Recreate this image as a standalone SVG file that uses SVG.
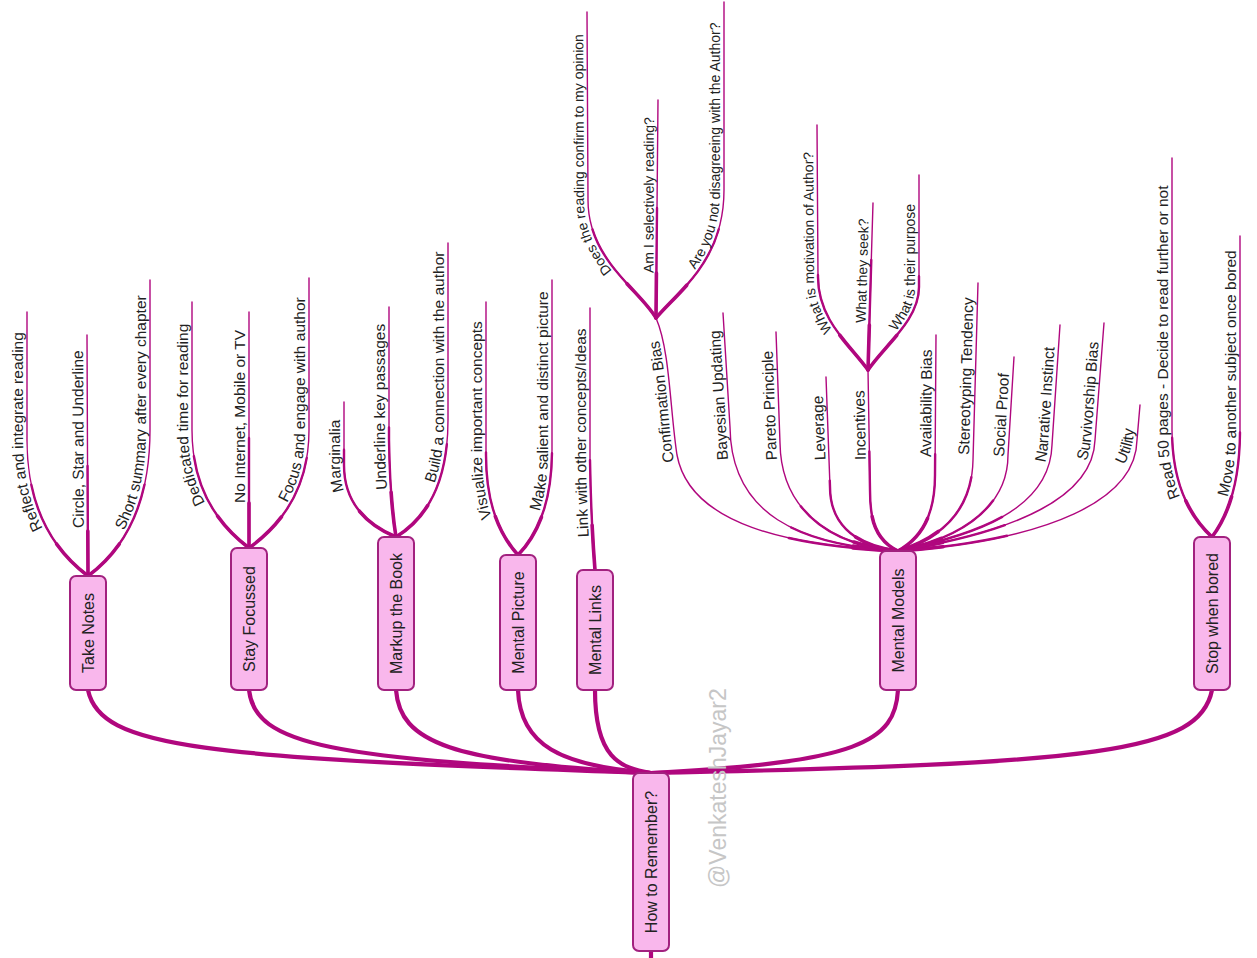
<svg xmlns="http://www.w3.org/2000/svg" xmlns:xlink="http://www.w3.org/1999/xlink" width="1257" height="958" viewBox="0 0 1257 958">
<style>
.bg{fill:#ffffff}
.main{fill:none;stroke:#B0077E;stroke-width:4.2;stroke-linecap:round}
.w1{fill:none;stroke:#B0077E;stroke-width:1.4;stroke-linecap:round}
.w2{fill:none;stroke:#B0077E;stroke-width:2.4;stroke-linecap:round;stroke-dasharray:110 3000}
.w3{fill:none;stroke:#B0077E;stroke-width:3.6;stroke-linecap:round;stroke-dasharray:45 3000}
.box{fill:#F9B7EC;stroke:#A2217F;stroke-width:2}
.nt{font-family:"Liberation Sans",Arial,sans-serif;font-size:16px;fill:#222;text-anchor:middle}
.l2{font-family:"Liberation Sans",Arial,sans-serif;font-size:15.5px;fill:#222}
.l3{font-family:"Liberation Sans",Arial,sans-serif;font-size:14px;fill:#222}
.wm{font-family:"Liberation Sans",Arial,sans-serif;font-size:23px;fill:#C6C6C6}
</style>
<defs>
<path id="lp-tn1" d="M88,576 Q27,530 27,440 L27,312"/>
<path id="tp-tn1" d="M46.8,528.3 Q27,491.3 27,440 L27,312"/>
<path id="lp-tn2" d="M88,576 L87,335"/>
<path id="tp-tn2" d="M87.8,528 L87,335"/>
<path id="lp-tn3" d="M88,576 Q150,530 150,430 L150,280"/>
<path id="tp-tn3" d="M127.7,530.6 Q150,490 150,430 L150,280"/>
<path id="lp-sf1" d="M249,548 Q192,505 192,430 L192,302"/>
<path id="tp-sf1" d="M209.2,502.9 Q192,471.3 192,430 L192,302"/>
<path id="lp-sf2" d="M249,548 L249,312"/>
<path id="tp-sf2" d="M249,503 L249,312"/>
<path id="lp-sf3" d="M249,548 Q309,505 309,430 L309,278"/>
<path id="tp-sf3" d="M290.9,502.9 Q309,471.3 309,430 L309,278"/>
<path id="lp-mb1" d="M396,537 Q344,515 344,465 L344,402"/>
<path id="tp-mb1" d="M348.1,490.8 Q344,479 344,465 L344,402"/>
<path id="lp-mb2" d="M396,537 Q390,500 389,440 L389,307"/>
<path id="tp-mb2" d="M390.9,489.3 Q389.45,467 389,440 L389,307"/>
<path id="lp-mb3" d="M396,537 Q448,505 448,420 L448,243"/>
<path id="tp-mb3" d="M438.4,483.4 Q448,456.6 448,420 L448,243"/>
<path id="lp-mp1" d="M518,555 Q486,520 486,455 L486,302"/>
<path id="tp-mp1" d="M495.7,517.4 Q486,490.75 486,455 L486,302"/>
<path id="lp-mp2" d="M518,555 Q552,520 552,450 L552,280"/>
<path id="tp-mp2" d="M543.5,511.25 Q552,485 552,450 L552,280"/>
<path id="lp-ml1" d="M595,570 Q591,520 590,460 L590,308"/>
<path id="tp-ml1" d="M592.7,537 Q590.7,500.8 590,460 L590,308"/>
<path id="lp-mm1" d="M898,551 C790,546 690,525 677,455 C670,410 670,350 656,318"/>
<path id="tp-mm1" d="M677.8,462 L677,455 C670,410 670,350 656,318"/>
<path id="lp-mm2" d="M898,551 C800,545 731,515 730,427 L723,313"/>
<path id="tp-mm2" d="M732,460 Q730.5,440 730,427 L723,313"/>
<path id="lp-mm3" d="M898,551 C830,545 781,510 780,443 L776,332"/>
<path id="tp-mm3" d="M781,460 L780,443 L776,332"/>
<path id="lp-mm4" d="M898,551 C850,545 830,520 830,487 L826,377"/>
<path id="tp-mm4" d="M829.5,460 L826,377"/>
<path id="lp-mm5" d="M898,551 C875,540 870,520 870,490 L868,370"/>
<path id="tp-mm5" d="M869.8,460 L868,370"/>
<path id="lp-mm6" d="M898,551 C918,540 935,520 935,475 L936,335"/>
<path id="tp-mm6" d="M935,457 L936,335"/>
<path id="lp-mm7" d="M898,551 C935,540 972,515 973,460 L978,283"/>
<path id="tp-mm7" d="M973,455 L978,283"/>
<path id="lp-mm8" d="M898,551 C955,540 1008,510 1008,455 L1014,357"/>
<path id="tp-mm8" d="M1008,457 L1014,357"/>
<path id="lp-mm9" d="M898,551 C975,535 1050,510 1052,445 L1060,325"/>
<path id="tp-mm9" d="M1049,463 Q1051.5,452 1052,445 L1060,325"/>
<path id="lp-mm10" d="M898,551 C995,535 1093,505 1095,440 L1104,323"/>
<path id="tp-mm10" d="M1090,461 Q1094,452 1095,440 L1104,323"/>
<path id="lp-mm11" d="M898,551 C1050,540 1136,500 1137,440 L1140,405"/>
<path id="tp-mm11" d="M1128,465 Q1135,452 1137,440 L1140,405"/>
<path id="lp-cb1" d="M656,318 C640,290 588,260 588,200 L587,12"/>
<path id="tp-cb1" d="M616.1,271 C601,252.5 588,230 588,200 L587,12"/>
<path id="lp-cb2" d="M656,318 L658,100"/>
<path id="tp-cb2" d="M657.5,273 L658,100"/>
<path id="lp-cb3" d="M656,318 C680,290 724,260 724,190 L724,2"/>
<path id="tp-cb3" d="M699.1,269.75 C713,250 724,225 724,190 L724,2"/>
<path id="lp-in1" d="M868,370 C850,345 818,320 818,277 L817,125"/>
<path id="tp-in1" d="M836.25,330.25 C826,315.5 818,298.5 818,277 L817,125"/>
<path id="lp-in2" d="M868,370 L873,203"/>
<path id="tp-in2" d="M869.6,323 L873,203"/>
<path id="lp-in3" d="M868,370 C885,345 919,320 919,287 L919,175"/>
<path id="tp-in3" d="M899.9,331.5 C910.5,318 919,303.5 919,287 L919,175"/>
<path id="lp-sb1" d="M1212,537 Q1172,500 1172,430 L1172,158"/>
<path id="tp-sb1" d="M1184.1,497 Q1172,468.5 1172,430 L1172,158"/>
<path id="lp-sb2" d="M1212,537 Q1240,500 1240,430 L1240,236"/>
<path id="tp-sb2" d="M1231.5,497 Q1240,468.5 1240,430 L1240,236"/>
</defs>
<rect class="bg" x="0" y="0" width="1257" height="958"/>
<g id="connectors">
<path class="main" d="M88,690 C100,748 200,758 651,773"/>
<path class="main" d="M249,690 C255,745 330,760 651,773"/>
<path class="main" d="M396,690 C400,742 450,763 651,773"/>
<path class="main" d="M518,690 C520,745 560,766 651,773"/>
<path class="main" d="M595,690 C595,758 620,768 651,773"/>
<path class="main" d="M898,690 C895,742 860,762 651,773"/>
<path class="main" d="M1212,690 C1200,752 1100,764 651,773"/>
<path class="main" d="M651,951 L651,958"/>
<g id="leaf-lines">
<use href="#lp-tn1" class="w1"/><use href="#lp-tn1" class="w2"/><use href="#lp-tn1" class="w3"/>
<use href="#lp-tn2" class="w1"/><use href="#lp-tn2" class="w2"/><use href="#lp-tn2" class="w3"/>
<use href="#lp-tn3" class="w1"/><use href="#lp-tn3" class="w2"/><use href="#lp-tn3" class="w3"/>
<use href="#lp-sf1" class="w1"/><use href="#lp-sf1" class="w2"/><use href="#lp-sf1" class="w3"/>
<use href="#lp-sf2" class="w1"/><use href="#lp-sf2" class="w2"/><use href="#lp-sf2" class="w3"/>
<use href="#lp-sf3" class="w1"/><use href="#lp-sf3" class="w2"/><use href="#lp-sf3" class="w3"/>
<use href="#lp-mb1" class="w1"/><use href="#lp-mb1" class="w2"/><use href="#lp-mb1" class="w3"/>
<use href="#lp-mb2" class="w1"/><use href="#lp-mb2" class="w2"/><use href="#lp-mb2" class="w3"/>
<use href="#lp-mb3" class="w1"/><use href="#lp-mb3" class="w2"/><use href="#lp-mb3" class="w3"/>
<use href="#lp-mp1" class="w1"/><use href="#lp-mp1" class="w2"/><use href="#lp-mp1" class="w3"/>
<use href="#lp-mp2" class="w1"/><use href="#lp-mp2" class="w2"/><use href="#lp-mp2" class="w3"/>
<use href="#lp-ml1" class="w1"/><use href="#lp-ml1" class="w2"/><use href="#lp-ml1" class="w3"/>
<use href="#lp-mm1" class="w1"/><use href="#lp-mm1" class="w2"/><use href="#lp-mm1" class="w3"/>
<use href="#lp-mm2" class="w1"/><use href="#lp-mm2" class="w2"/><use href="#lp-mm2" class="w3"/>
<use href="#lp-mm3" class="w1"/><use href="#lp-mm3" class="w2"/><use href="#lp-mm3" class="w3"/>
<use href="#lp-mm4" class="w1"/><use href="#lp-mm4" class="w2"/><use href="#lp-mm4" class="w3"/>
<use href="#lp-mm5" class="w1"/><use href="#lp-mm5" class="w2"/><use href="#lp-mm5" class="w3"/>
<use href="#lp-mm6" class="w1"/><use href="#lp-mm6" class="w2"/><use href="#lp-mm6" class="w3"/>
<use href="#lp-mm7" class="w1"/><use href="#lp-mm7" class="w2"/><use href="#lp-mm7" class="w3"/>
<use href="#lp-mm8" class="w1"/><use href="#lp-mm8" class="w2"/><use href="#lp-mm8" class="w3"/>
<use href="#lp-mm9" class="w1"/><use href="#lp-mm9" class="w2"/><use href="#lp-mm9" class="w3"/>
<use href="#lp-mm10" class="w1"/><use href="#lp-mm10" class="w2"/><use href="#lp-mm10" class="w3"/>
<use href="#lp-mm11" class="w1"/><use href="#lp-mm11" class="w2"/><use href="#lp-mm11" class="w3"/>
<use href="#lp-cb1" class="w1"/><use href="#lp-cb1" class="w2"/><use href="#lp-cb1" class="w3"/>
<use href="#lp-cb2" class="w1"/><use href="#lp-cb2" class="w2"/><use href="#lp-cb2" class="w3"/>
<use href="#lp-cb3" class="w1"/><use href="#lp-cb3" class="w2"/><use href="#lp-cb3" class="w3"/>
<use href="#lp-in1" class="w1"/><use href="#lp-in1" class="w2"/><use href="#lp-in1" class="w3"/>
<use href="#lp-in2" class="w1"/><use href="#lp-in2" class="w2"/><use href="#lp-in2" class="w3"/>
<use href="#lp-in3" class="w1"/><use href="#lp-in3" class="w2"/><use href="#lp-in3" class="w3"/>
<use href="#lp-sb1" class="w1"/><use href="#lp-sb1" class="w2"/><use href="#lp-sb1" class="w3"/>
<use href="#lp-sb2" class="w1"/><use href="#lp-sb2" class="w2"/><use href="#lp-sb2" class="w3"/>
</g>
</g>
<text class="wm" transform="translate(726,888) rotate(-90)">@VenkateshJayar2</text>
<g id="node-root"><rect class="box" x="633" y="773" width="36" height="178" rx="6"/><text class="nt" transform="translate(651,862) rotate(-90)" dy="5.5">How to Remember?</text></g>
<g id="node-take-notes"><rect class="box" x="70" y="576" width="36" height="114" rx="6"/><text class="nt" transform="translate(88,633) rotate(-90)" dy="5.5">Take Notes</text></g>
<g id="node-stay-focussed"><rect class="box" x="231" y="548" width="36" height="142" rx="6"/><text class="nt" transform="translate(249,619) rotate(-90)" dy="5.5">Stay Focussed</text></g>
<g id="node-markup"><rect class="box" x="378" y="537" width="36" height="153" rx="6"/><text class="nt" transform="translate(396,613.5) rotate(-90)" dy="5.5">Markup the Book</text></g>
<g id="node-mental-picture"><rect class="box" x="500" y="555" width="36" height="135" rx="6"/><text class="nt" transform="translate(518,622.5) rotate(-90)" dy="5.5">Mental Picture</text></g>
<g id="node-mental-links"><rect class="box" x="577" y="570" width="36" height="120" rx="6"/><text class="nt" transform="translate(595,630) rotate(-90)" dy="5.5">Mental Links</text></g>
<g id="node-mental-models"><rect class="box" x="880" y="551" width="36" height="139" rx="6"/><text class="nt" transform="translate(898,620.5) rotate(-90)" dy="5.5">Mental Models</text></g>
<g id="node-stop-when-bored"><rect class="box" x="1194" y="537" width="36" height="153" rx="6"/><text class="nt" transform="translate(1212,613.5) rotate(-90)" dy="5.5">Stop when bored</text></g>
<g id="leaf-tn1"><text class="l2" transform="translate(-4,0)"><textPath href="#tp-tn1">Reflect and integrate reading</textPath></text></g>
<g id="leaf-tn2"><text class="l2" transform="translate(-4,0)"><textPath href="#tp-tn2">Circle, Star and Underline</textPath></text></g>
<g id="leaf-tn3"><text class="l2" transform="translate(-4,0)"><textPath href="#tp-tn3">Short summary after every chapter</textPath></text></g>
<g id="leaf-sf1"><text class="l2" transform="translate(-4,0)"><textPath href="#tp-sf1">Dedicated time for reading</textPath></text></g>
<g id="leaf-sf2"><text class="l2" transform="translate(-4,0)"><textPath href="#tp-sf2">No Internet, Mobile or TV</textPath></text></g>
<g id="leaf-sf3"><text class="l2" transform="translate(-4,0)"><textPath href="#tp-sf3">Focus and engage with author</textPath></text></g>
<g id="leaf-mb1"><text class="l2" transform="translate(-4,0)"><textPath href="#tp-mb1">Marginalia</textPath></text></g>
<g id="leaf-mb2"><text class="l2" transform="translate(-4,0)"><textPath href="#tp-mb2">Underline key passages</textPath></text></g>
<g id="leaf-mb3"><text class="l2" transform="translate(-4,0)"><textPath href="#tp-mb3">Build a connection with the author</textPath></text></g>
<g id="leaf-mp1"><text class="l2" transform="translate(-4,0)"><textPath href="#tp-mp1">Visualize important concepts</textPath></text></g>
<g id="leaf-mp2"><text class="l2" transform="translate(-4,0)"><textPath href="#tp-mp2">Make salient and distinct picture</textPath></text></g>
<g id="leaf-ml1"><text class="l2" transform="translate(-4,0)"><textPath href="#tp-ml1">Link with other concepts/Ideas</textPath></text></g>
<g id="leaf-mm1"><text class="l2" transform="translate(-4,0)"><textPath href="#tp-mm1">Confirmation Bias</textPath></text></g>
<g id="leaf-mm2"><text class="l2" transform="translate(-4,0)"><textPath href="#tp-mm2">Bayesian Updating</textPath></text></g>
<g id="leaf-mm3"><text class="l2" transform="translate(-4,0)"><textPath href="#tp-mm3">Pareto Principle</textPath></text></g>
<g id="leaf-mm4"><text class="l2" transform="translate(-4,0)"><textPath href="#tp-mm4">Leverage</textPath></text></g>
<g id="leaf-mm5"><text class="l2" transform="translate(-4,0)"><textPath href="#tp-mm5">Incentives</textPath></text></g>
<g id="leaf-mm6"><text class="l2" transform="translate(-4,0)"><textPath href="#tp-mm6">Availability Bias</textPath></text></g>
<g id="leaf-mm7"><text class="l2" transform="translate(-4,0)"><textPath href="#tp-mm7">Stereotyping Tendency</textPath></text></g>
<g id="leaf-mm8"><text class="l2" transform="translate(-4,0)"><textPath href="#tp-mm8">Social Proof</textPath></text></g>
<g id="leaf-mm9"><text class="l2" transform="translate(-4,0)"><textPath href="#tp-mm9">Narrative Instinct</textPath></text></g>
<g id="leaf-mm10"><text class="l2" transform="translate(-4,0)"><textPath href="#tp-mm10">Survivorship Bias</textPath></text></g>
<g id="leaf-mm11"><text class="l2" transform="translate(-4,0)"><textPath href="#tp-mm11">Utility</textPath></text></g>
<g id="leaf-cb1"><text class="l3" transform="translate(-4,0)"><textPath href="#tp-cb1">Does the reading confirm to my opinion</textPath></text></g>
<g id="leaf-cb2"><text class="l3" transform="translate(-4,0)"><textPath href="#tp-cb2">Am I selectively reading?</textPath></text></g>
<g id="leaf-cb3"><text class="l3" transform="translate(-4,0)"><textPath href="#tp-cb3">Are you not disagreeing with the Author?</textPath></text></g>
<g id="leaf-in1"><text class="l3" transform="translate(-4,0)"><textPath href="#tp-in1">What is motivation of Author?</textPath></text></g>
<g id="leaf-in2"><text class="l3" transform="translate(-4,0)"><textPath href="#tp-in2">What they seek?</textPath></text></g>
<g id="leaf-in3"><text class="l3" transform="translate(-4,0)"><textPath href="#tp-in3">What is their purpose</textPath></text></g>
<g id="leaf-sb1"><text class="l2" transform="translate(-4,0)" font-size="16"><textPath href="#tp-sb1">Read 50 pages - Decide to read further or not</textPath></text></g>
<g id="leaf-sb2"><text class="l2" transform="translate(-4,0)"><textPath href="#tp-sb2">Move to another subject once bored</textPath></text></g>
</svg>
